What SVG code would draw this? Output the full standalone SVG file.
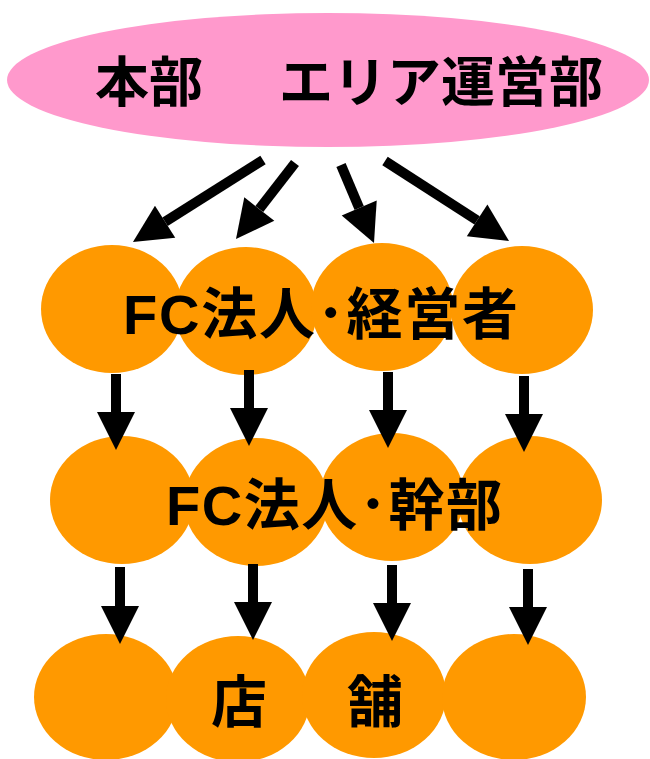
<svg xmlns="http://www.w3.org/2000/svg" width="650" height="759" viewBox="0 0 650 759">
<style>
.pink{fill:#FF99CC}
.orange{fill:#FF9900}
.lbl{font-family:"Liberation Sans","Noto Sans CJK JP",sans-serif;font-weight:bold;fill:#000}
.arr{stroke:#000;stroke-width:10;fill:none;marker-end:url(#ah)}
</style>
<defs>
<marker id="ah" markerUnits="userSpaceOnUse" markerWidth="40" markerHeight="40" viewBox="0 -20 40 40" refX="0" refY="0" orient="auto" overflow="visible">
<path d="M0,-19 L38,0 L0,19 Z" fill="#000"/>
</marker>
</defs>
<rect width="650" height="759" fill="#fff"/>
<g id="hq">
<ellipse class="pink" cx="328" cy="80" rx="321" ry="67"/>
<text class="lbl" font-size="54" y="102"><tspan x="95">本部</tspan><tspan x="279">エリア運営部</tspan></text>
</g>
<g id="fc-owners">
<ellipse class="orange" cx="112" cy="309" rx="71" ry="64"/>
<ellipse class="orange" cx="246" cy="311" rx="71" ry="64"/>
<ellipse class="orange" cx="382" cy="307" rx="71" ry="64"/>
<ellipse class="orange" cx="522" cy="310" rx="71" ry="64"/>
<text class="lbl" font-size="56" x="123" y="334" textLength="395" lengthAdjust="spacing">FC法人･経営者</text>
</g>
<g id="fc-executives">
<ellipse class="orange" cx="122" cy="500" rx="72" ry="64"/>
<ellipse class="orange" cx="256" cy="502" rx="72" ry="64"/>
<ellipse class="orange" cx="392" cy="497" rx="72" ry="64"/>
<ellipse class="orange" cx="530" cy="500" rx="72" ry="64"/>
<text class="lbl" font-size="56" x="166" y="525" textLength="336" lengthAdjust="spacing">FC法人･幹部</text>
</g>
<g id="stores">
<ellipse class="orange" cx="106" cy="697" rx="72" ry="63"/>
<ellipse class="orange" cx="238" cy="699" rx="72" ry="63"/>
<ellipse class="orange" cx="374" cy="695" rx="72" ry="63"/>
<ellipse class="orange" cx="514" cy="697" rx="72" ry="63"/>
<text class="lbl" font-size="56" y="722"><tspan x="211">店</tspan><tspan x="347">舗</tspan></text>
</g>
<g id="connectors">
<path class="arr" d="M263,160 L165.1,221.7"/>
<path class="arr" d="M295,163 L259.3,209"/>
<path class="arr" d="M341,165 L359.2,208"/>
<path class="arr" d="M385,161 L477.1,220.4"/>
<path class="arr" d="M116,374 L116,412"/>
<path class="arr" d="M249,370 L249,408"/>
<path class="arr" d="M388,372 L388,410"/>
<path class="arr" d="M524,376 L524,414"/>
<path class="arr" d="M120,567 L120,606"/>
<path class="arr" d="M253,564 L253,602"/>
<path class="arr" d="M392,565 L392,603"/>
<path class="arr" d="M528,569 L528,607"/>
</g>
</svg>
